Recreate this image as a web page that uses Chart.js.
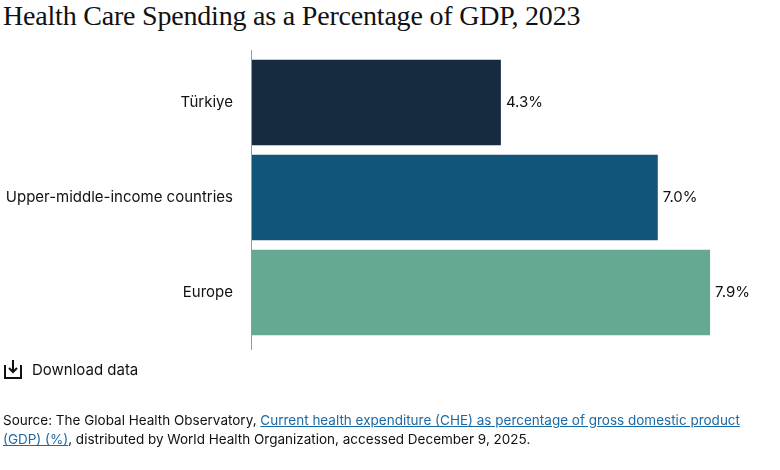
<!DOCTYPE html>
<html><head><meta charset="utf-8">
<script src="https://cdn.jsdelivr.net/npm/chart.js@4"></script>
<style>
body{margin:0;width:780px;height:470px;position:relative;background:#fff;font-family:Inter,"Noto Sans",sans-serif;color:#111;overflow:hidden}
#t{position:absolute;left:3px;top:0px;font-family:"DejaVu Serif","Liberation Serif",serif;font-size:25px;font-family:"Liberation Serif",serif;font-size:28px;letter-spacing:-0.2px}
#c{position:absolute;left:0;top:0}
#dl{position:absolute;left:4px;top:359px;font-size:15px;display:flex;align-items:center}
#dl svg{margin-right:10px}
#src{position:absolute;left:3px;top:411px;font-size:13.5px;line-height:19px;width:770px}
#src a{color:#1a6aa5}
</style></head><body>
<div id="t">Health Care Spending as a Percentage of GDP, 2023</div>
<canvas id="c" width="780" height="470"></canvas>
<div id="dl"><svg width="18" height="20" viewBox="0 0 18 20"><path d="M1 6 V19 H17 V6" fill="none" stroke="#111" stroke-width="2"/><path d="M9 1 V13 M5 9 L9 13 L13 9" fill="none" stroke="#111" stroke-width="2"/></svg>Download data</div>
<div id="src">Source: The Global Health Observatory, <a href="#">Current health expenditure (CHE) as percentage of gross domestic product (GDP) (%)</a>, distributed by World Health Organization, accessed December 9, 2025.</div>
<script>
const categories=["Türkiye","Upper-middle-income countries","Europe"];
const values=[4.3,7.0,7.9];
const colors=["#172b40","#12557a","#67a893"];
const labelPlug={id:'lab',afterDatasetsDraw(ch){const c=ch.ctx;const m=ch.getDatasetMeta(0);c.save();c.font='15px Inter';c.fillStyle='#111';c.textBaseline='middle';m.data.forEach((b,i)=>{c.fillText(values[i].toFixed(1)+'%',b.x+5,b.y);});
const x=ch.scales.x.left;c.strokeStyle='#999';c.lineWidth=1;c.beginPath();c.moveTo(x+0.5,50);c.lineTo(x+0.5,350);c.stroke();c.restore();}};
new Chart(document.getElementById('c'),{type:'bar',data:{labels:categories,datasets:[{data:values,backgroundColor:colors,barPercentage:0.9,categoryPercentage:1}]},
options:{indexAxis:'y',responsive:false,animation:false,layout:{padding:{top:55,bottom:130,right:6,left:0}},
plugins:{legend:{display:false},tooltip:{enabled:false}},
scales:{x:{min:0,max:9,display:false},y:{grid:{display:false},border:{display:false},ticks:{color:'#111',font:{size:15,family:'Inter'},padding:10},afterFit(s){s.width=251;}}}},plugins:[labelPlug]});
</script></body></html>
